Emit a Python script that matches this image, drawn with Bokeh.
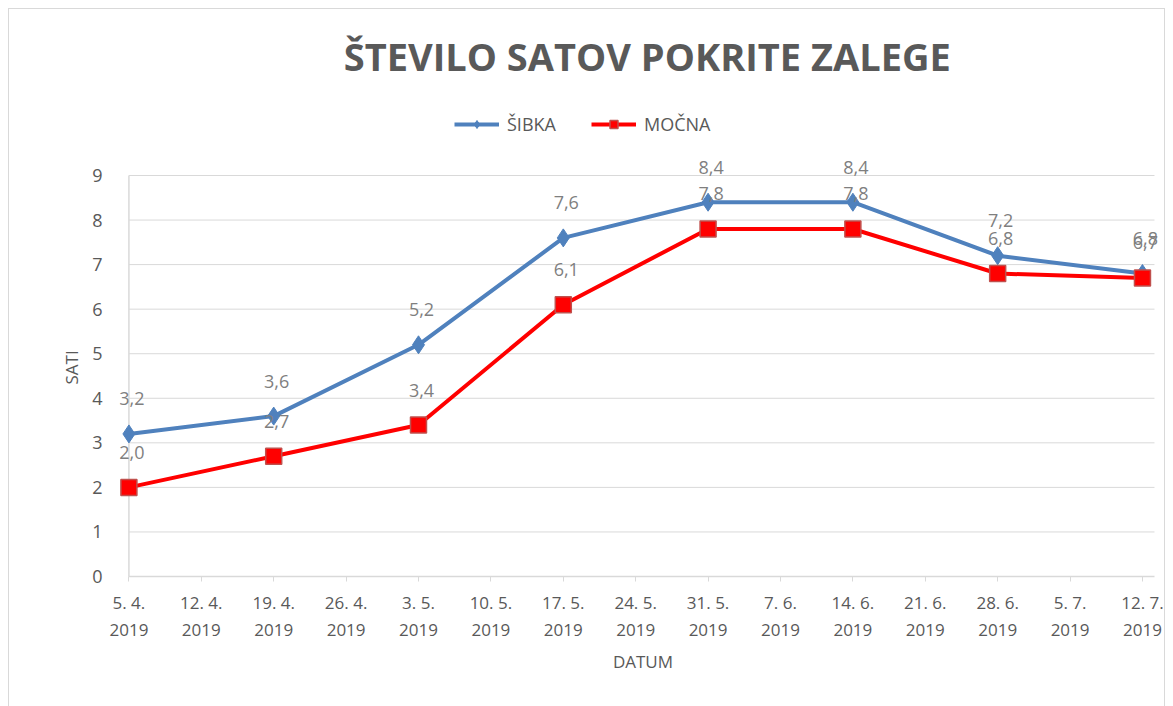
from bokeh.plotting import figure
from bokeh.models import Range1d, FixedTicker, Legend, LegendItem, ColumnDataSource, LabelSet, Label, Title
from bokeh.core.properties import value
from bokeh.embed import file_html
from bokeh.resources import INLINE

tick_dates = ["5. 4. 2019", "12. 4. 2019", "19. 4. 2019", "26. 4. 2019", "3. 5. 2019",
              "10. 5. 2019", "17. 5. 2019", "24. 5. 2019", "31. 5. 2019", "7. 6. 2019",
              "14. 6. 2019", "21. 6. 2019", "28. 6. 2019", "5. 7. 2019", "12. 7. 2019"]
measure_dates = ["5. 4. 2019", "19. 4. 2019", "3. 5. 2019", "17. 5. 2019",
                 "31. 5. 2019", "14. 6. 2019", "28. 6. 2019", "12. 7. 2019"]
sibka = [3.2, 3.6, 5.2, 7.6, 8.4, 8.4, 7.2, 6.8]
mocna = [2.0, 2.7, 3.4, 6.1, 7.8, 7.8, 6.8, 6.7]
y_ticks = [0, 1, 2, 3, 4, 5, 6, 7, 8, 9]

FONT = "Open Sans"
GRAY = "#595959"
BLUE = "#4F81BD"
RED = "#FF0000"
GRID = "#d9d9d9"
X_END = 14.166  # end of the plotted area (slightly past the last week)

x = [tick_dates.index(d) for d in measure_dates]
fmt = lambda v: f"{v:.1f}".replace(".", ",")
src_b = ColumnDataSource(dict(x=x, y=sibka, t=[fmt(v) for v in sibka]))
src_r = ColumnDataSource(dict(x=x, y=mocna, t=[fmt(v) for v in mocna]))

# frame extends to the top/right of the chart so that title/legend/labels are not clipped
p = figure(width=1157, height=700, output_backend="svg", toolbar_location=None,
           x_range=Range1d(-0.13, 14.332), y_range=Range1d(0, 12.7256),
           min_border_left=110, min_border_right=0, min_border_top=0, min_border_bottom=133)
p.styles = {"border": "1px solid #d9d9d9", "margin-left": "8px", "margin-top": "8px"}
p.outline_line_color = None
p.background_fill_color = "white"
p.border_fill_color = "white"

# title
p.add_layout(Label(x=7.16, y=11.69, text="ŠTEVILO SATOV POKRITE ZALEGE", text_font=FONT,
                   text_font_size="38px", text_font_style="bold", text_color=GRAY,
                   text_align="center", text_baseline="middle"))

# axes
p.xaxis.ticker = FixedTicker(ticks=list(range(len(tick_dates))))
p.xaxis.bounds = (0, X_END)
p.xaxis.major_label_overrides = {i: d.replace(". 2019", ".\n2019") for i, d in enumerate(tick_dates)}
p.xaxis.major_label_text_font = FONT
p.xaxis.major_label_text_font_size = "17px"
p.xaxis.major_label_text_color = GRAY
p.xaxis.axis_line_color = GRID
p.xaxis.axis_line_width = 1.5
p.xaxis.major_tick_line_color = GRID
p.xaxis.major_tick_in = 0
p.xaxis.major_tick_out = 5
p.xaxis.minor_tick_line_color = None
p.xaxis.major_label_standoff = 9
p.xaxis.axis_label = "DATUM"
p.xaxis.axis_label_text_font = FONT
p.xaxis.axis_label_text_font_size = "17px"
p.xaxis.axis_label_text_font_style = "normal"
p.xaxis.axis_label_text_color = GRAY
p.xaxis.axis_label_standoff = 6

p.yaxis.ticker = FixedTicker(ticks=y_ticks)
p.yaxis.major_label_text_font = FONT
p.yaxis.major_label_text_font_size = "18px"
p.yaxis.major_label_text_color = GRAY
p.yaxis.axis_line_color = None
p.yaxis.major_tick_line_color = None
p.yaxis.minor_tick_line_color = None
p.yaxis.major_label_standoff = 11

sati = Title(text="SATI", align="left", offset=192, text_font=FONT, text_font_size="17px",
             text_font_style="normal", text_color=GRAY, standoff=13)
p.add_layout(sati, "left")

# horizontal gridlines and vertical value-axis line, limited to the plot area
p.xgrid.grid_line_color = None
p.ygrid.grid_line_color = None
p.segment(x0=[0] * (len(y_ticks) - 1), y0=y_ticks[1:], x1=[X_END] * (len(y_ticks) - 1), y1=y_ticks[1:],
          line_color=GRID, line_width=1)
p.segment(x0=[0], y0=[y_ticks[0]], x1=[0], y1=[y_ticks[-1]], line_color=GRID, line_width=1.5)

lb = p.line("x", "y", source=src_b, line_color=BLUE, line_width=4)
mb = p.scatter("x", "y", source=src_b, marker="diamond", size=18, fill_color=BLUE, line_color=BLUE)
lr = p.line("x", "y", source=src_r, line_color=RED, line_width=4)
mr = p.scatter("x", "y", source=src_r, marker="square", size=16, fill_color=RED, line_color="#C0504D", line_width=1.5)

for src in (src_b, src_r):
    p.add_layout(LabelSet(x="x", y="y", text="t", source=src, text_font=value(FONT),
                          text_font_size="18px", text_color="#7F7F7F", text_align="center",
                          text_baseline="middle", x_offset=3, y_offset=35))

legend = Legend(items=[LegendItem(label="ŠIBKA", renderers=[lb, mb]),
                       LegendItem(label="MOČNA", renderers=[lr, mr])],
                orientation="horizontal", location=(335, 440))
legend.label_text_font = FONT
legend.label_text_font_size = "18px"
legend.label_text_color = GRAY
legend.border_line_color = None
legend.background_fill_alpha = 0
legend.glyph_width = 45
legend.label_standoff = 8
legend.spacing = 35
p.add_layout(legend)

open("out.html", "w").write(file_html(p, INLINE))
